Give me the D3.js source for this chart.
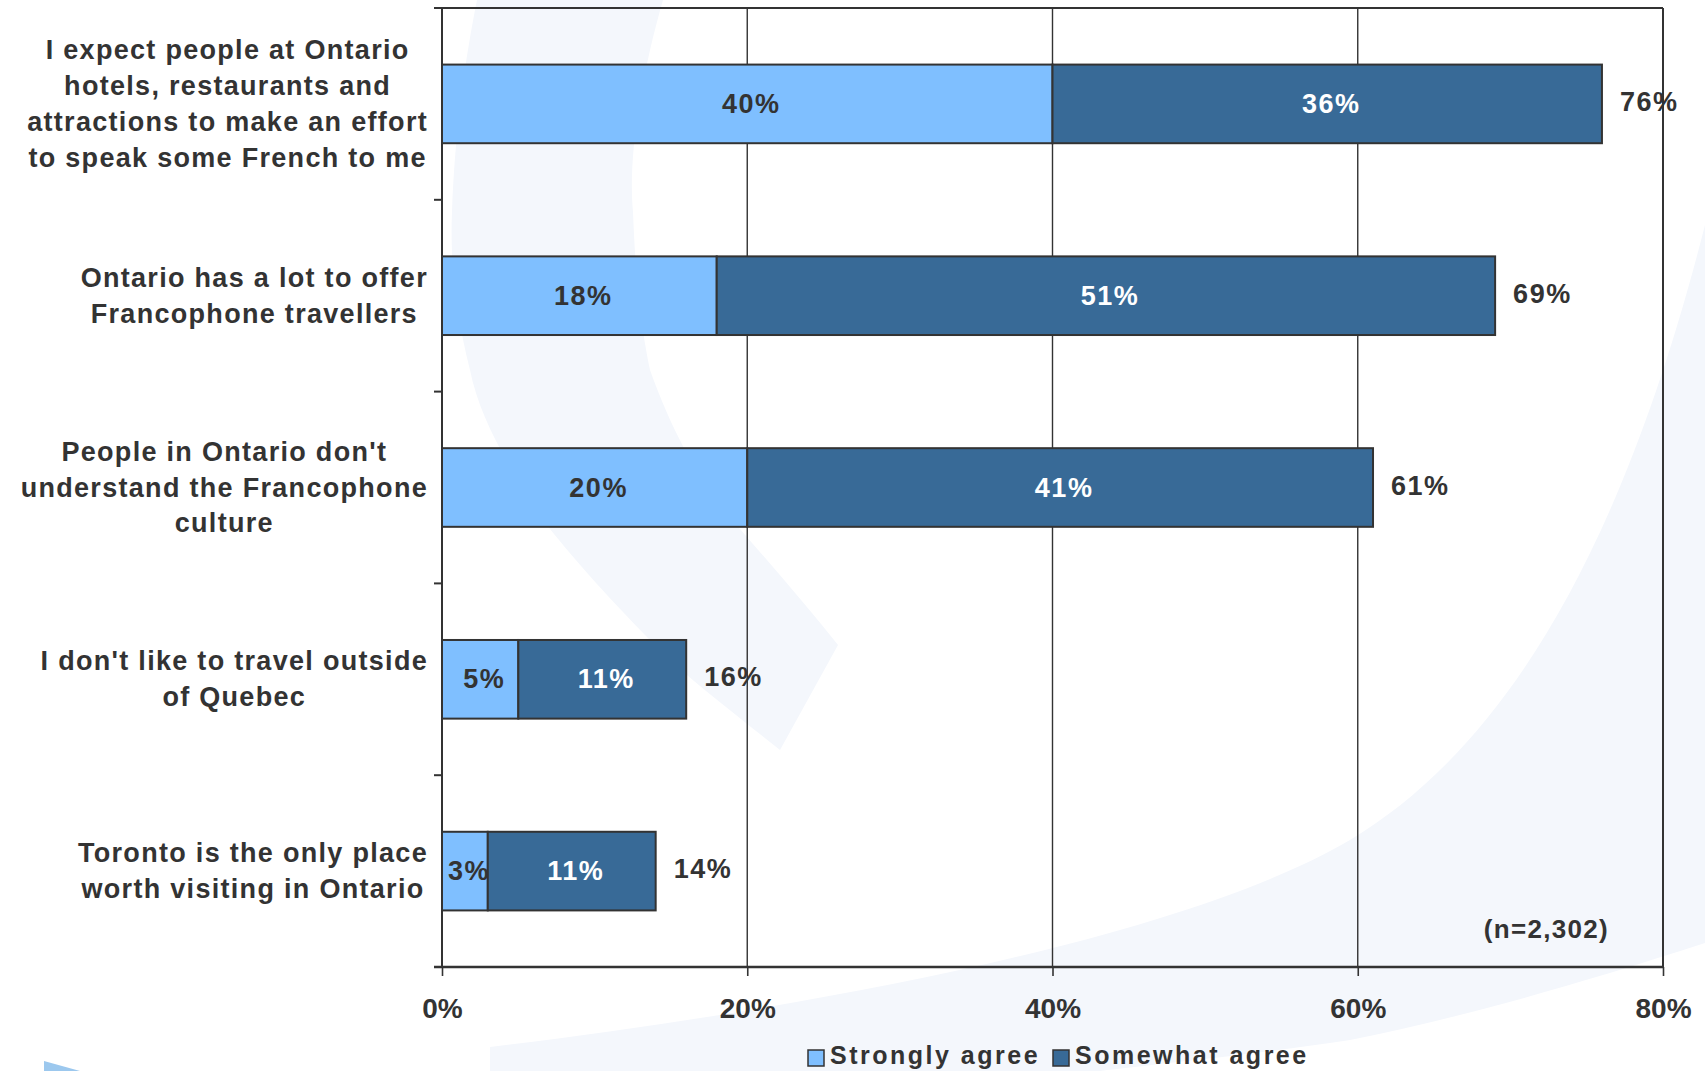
<!DOCTYPE html>
<html>
<head>
<meta charset="utf-8">
<script src="https://cdn.jsdelivr.net/npm/d3@7"></script>
<style>
  html, body { margin: 0; padding: 0; background: #ffffff; overflow: hidden; }
  svg { display: block; }
  text { font-family: "Liberation Sans", Arial, sans-serif; font-weight: bold; }
</style>
</head>
<body>
<svg id="chart" width="1705" height="1071"></svg>
<script>
// Survey statements (each label broken into its display lines)
const categories = [
  ["I expect people at Ontario", "hotels, restaurants and", "attractions to make an effort", "to speak some French to me"],
  ["Ontario has a lot to offer", "Francophone travellers"],
  ["People in Ontario don't", "understand the Francophone", "culture"],
  ["I don't like to travel outside", "of Quebec"],
  ["Toronto is the only place", "worth visiting in Ontario"]
];
const stronglyAgree = [40, 18, 20, 5, 3];
const somewhatAgree = [36, 51, 41, 11, 11];
const totals = [76, 69, 61, 16, 14];
const seriesNames = ["Strongly agree", "Somewhat agree"];
const xTicks = [0, 20, 40, 60, 80];
const sampleNote = "(n=2,302)";

const colors = { strong: "#7fbfff", somewhat: "#386a97", ink: "#333333", edge: "#333333" };

const svg = d3.select("#chart");
const plotLeft = 442, plotRight = 1663, plotTop = 8, plotBottom = 967;

// faint background emblem (two sweeping bands)
const wm = svg.append("g").attr("fill", "#f4f7fc");
wm.append("path").attr("d",
  "M477,0 L663,0 C640,80 628,160 633,212 C636,290 642,330 650,370 C675,440 705,490 740,529 " +
  "C780,575 810,610 838,645 L780,750 C730,710 690,680 660,650 C610,600 575,560 550,529 " +
  "C510,470 480,420 470,370 C455,310 450,260 452,212 C455,130 465,60 477,0 Z");
wm.append("path").attr("d",
  "M490,1071 L490,1047 C800,1010 1180,940 1350,840 C1500,750 1620,560 1705,225 " +
  "L1705,943 C1560,990 1450,1020 1350,1040 C1250,1055 1150,1065 1100,1071 Z");
svg.append("path").attr("d", "M44,1061 L80,1071 L44,1071 Z").attr("fill", "#9cc8ee");

const keys = categories.map((_, i) => i);
const x = d3.scaleLinear().domain([0, 80]).range([plotLeft, plotRight]);
const y = d3.scaleBand().domain(keys).range([plotTop, plotBottom]).paddingInner(0.59).paddingOuter(0.295);
const step = y.step();

// frame: top border and vertical gridlines
svg.append("line").attr("x1", plotLeft - 8).attr("x2", plotRight).attr("y1", plotTop).attr("y2", plotTop)
  .attr("stroke", colors.edge).attr("stroke-width", 2);
svg.append("g").selectAll("line").data(xTicks.filter(t => t > 0)).join("line")
  .attr("x1", d => x(d)).attr("x2", d => x(d)).attr("y1", plotTop).attr("y2", plotBottom)
  .attr("stroke", colors.edge).attr("stroke-width", d => d === 80 ? 2 : 1.4);

// x axis
const xAxis = svg.append("g").attr("transform", `translate(0,${plotBottom})`)
  .call(d3.axisBottom(x).tickValues(xTicks).tickFormat(d => d + "%").tickSize(9));
xAxis.select(".domain").remove();
xAxis.selectAll(".tick line").attr("stroke", colors.edge).attr("stroke-width", 1.6);
xAxis.selectAll(".tick text").attr("fill", colors.ink).attr("font-size", 28)
  .attr("font-family", "Liberation Sans, Arial, sans-serif").attr("font-weight", "bold")
  .attr("y", 41).attr("dy", "0.35em");
svg.append("line").attr("x1", plotLeft - 8).attr("x2", plotRight).attr("y1", plotBottom).attr("y2", plotBottom)
  .attr("stroke", colors.edge).attr("stroke-width", 2.4);

// y axis line and boundary ticks
svg.append("line").attr("x1", plotLeft).attr("x2", plotLeft).attr("y1", plotTop).attr("y2", plotBottom)
  .attr("stroke", colors.edge).attr("stroke-width", 2);
svg.append("g").selectAll("line").data(d3.range(1, keys.length)).join("line")
  .attr("x1", plotLeft - 8).attr("x2", plotLeft).attr("y1", d => plotTop + d * step).attr("y2", d => plotTop + d * step)
  .attr("stroke", colors.edge).attr("stroke-width", 2);

// stacked bars
const rows = keys.map(i => ({ i, s: stronglyAgree[i], w: somewhatAgree[i], t: totals[i] }));
const bars = svg.append("g");
bars.selectAll("rect.strong").data(rows).join("rect").attr("class", "strong")
  .attr("x", d => x(0)).attr("y", d => y(d.i)).attr("width", d => x(d.s) - x(0)).attr("height", y.bandwidth())
  .attr("fill", colors.strong).attr("stroke", colors.edge).attr("stroke-width", 2);
bars.selectAll("rect.somewhat").data(rows).join("rect").attr("class", "somewhat")
  .attr("x", d => x(d.s)).attr("y", d => y(d.i)).attr("width", d => x(d.s + d.w) - x(d.s)).attr("height", y.bandwidth())
  .attr("fill", colors.somewhat).attr("stroke", colors.edge).attr("stroke-width", 2);

// value labels
const lbl = svg.append("g").attr("font-size", 27).attr("letter-spacing", 1.5).attr("dominant-baseline", "central");
lbl.selectAll("text.s").data(rows).join("text").attr("class", "s")
  .attr("x", d => (x(0) + x(d.s)) / 2 + 4).attr("y", d => y(d.i) + y.bandwidth() / 2)
  .attr("text-anchor", "middle").attr("fill", colors.ink).text(d => d.s + "%");
lbl.selectAll("text.w").data(rows).join("text").attr("class", "w")
  .attr("x", d => (x(d.s) + x(d.s + d.w)) / 2 + 4).attr("y", d => y(d.i) + y.bandwidth() / 2)
  .attr("text-anchor", "middle").attr("fill", "#ffffff").text(d => d.w + "%");
lbl.selectAll("text.t").data(rows).join("text").attr("class", "t")
  .attr("x", d => x(d.t) + 18).attr("y", d => y(d.i) + y.bandwidth() / 2 - 2)
  .attr("fill", colors.ink).text(d => d.t + "%");

// category labels: centered lines, block right-aligned against the axis
const catG = svg.append("g").attr("font-size", 27).attr("letter-spacing", 1.3).attr("fill", colors.ink);
const lineH = 35.8;
categories.forEach((lines, i) => {
  const g = catG.append("g");
  const cy = y(i) + y.bandwidth() / 2;
  const ts = lines.map((ln, j) => g.append("text")
    .attr("y", cy + (j - (lines.length - 1) / 2) * lineH)
    .attr("dominant-baseline", "central").attr("text-anchor", "middle").text(ln));
  const maxW = d3.max(ts, t => t.node().getComputedTextLength());
  const cx = 428 - maxW / 2;
  ts.forEach(t => t.attr("x", cx));
});

// sample size note
svg.append("text").attr("x", 1609).attr("y", 929).attr("text-anchor", "end")
  .attr("dominant-baseline", "central").attr("font-size", 26).attr("letter-spacing", 1.3)
  .attr("fill", colors.ink).text(sampleNote);

// legend
const legend = svg.append("g").attr("font-size", 25).attr("letter-spacing", 2.5).attr("fill", colors.ink);
const legendItems = [
  { name: seriesNames[0], color: colors.strong, x: 808 },
  { name: seriesNames[1], color: colors.somewhat, x: 1053 }
];
legendItems.forEach(it => {
  legend.append("rect").attr("x", it.x).attr("y", 1050).attr("width", 16).attr("height", 16)
    .attr("fill", it.color).attr("stroke", colors.edge).attr("stroke-width", 1.5);
  legend.append("text").attr("x", it.x + 22).attr("y", 1064).text(it.name);
});
</script>
</body>
</html>
